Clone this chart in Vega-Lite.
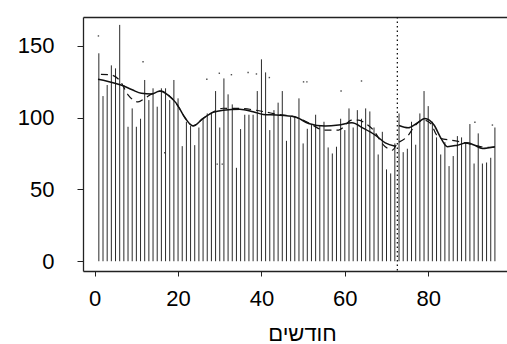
{
  "$schema": "https://vega.github.io/schema/vega-lite/v6.json",
  "width": 424,
  "height": 254,
  "autosize": {"type": "none"},
  "padding": {"left": 83, "top": 17, "right": 0, "bottom": 73},
  "config": {"view": {"stroke": null}, "font": "Liberation Sans", "background": "white"},
  "datasets": {
    "bars": [
      {"m":1,"v":144.9},{"m":2,"v":115.1},{"m":3,"v":122.8},{"m":4,"v":136.5},{"m":5,"v":134.4},{"m":6,"v":164.7},{"m":7,"v":122.8},{"m":8,"v":93.7},{"m":9,"v":106.5},{"m":10,"v":93.7},
      {"m":11,"v":99.3},{"m":12,"v":126.3},{"m":13,"v":112.3},{"m":14,"v":120.5},{"m":15,"v":107.7},{"m":16,"v":120.5},{"m":17,"v":120.5},{"m":18,"v":112.3},{"m":19,"v":126.3},{"m":20,"v":113.5},
      {"m":21,"v":80.2},{"m":22,"v":97.2},{"m":23,"v":94.2},{"m":24,"v":80.9},{"m":25,"v":93.2},{"m":26,"v":99.5},{"m":27,"v":103},{"m":28,"v":103},{"m":29,"v":118.6},{"m":30,"v":93.2},
      {"m":31,"v":127.4},{"m":32,"v":116.3},{"m":33,"v":109.3},{"m":34,"v":65.1},{"m":35,"v":92.1},{"m":36,"v":102.1},{"m":37,"v":102.1},{"m":38,"v":102.1},{"m":39,"v":118.6},{"m":40,"v":140.7},
      {"m":41,"v":131.6},{"m":42,"v":91.4},{"m":43,"v":105.3},{"m":44,"v":110.5},{"m":45,"v":118.6},{"m":46,"v":83.9},{"m":47,"v":100.7},{"m":48,"v":100.7},{"m":49,"v":113.5},{"m":50,"v":82.1},
      {"m":51,"v":92.3},{"m":52,"v":95.6},{"m":53,"v":102.1},{"m":54,"v":94.2},{"m":55,"v":97.2},{"m":56,"v":79.3},{"m":57,"v":75.1},{"m":58,"v":79.8},{"m":59,"v":99.3},{"m":60,"v":91.4},
      {"m":61,"v":106.5},{"m":62,"v":93.2},{"m":63,"v":105.3},{"m":64,"v":99.3},{"m":65,"v":106.5},{"m":66,"v":104.4},{"m":67,"v":93.2},{"m":68,"v":74.4},{"m":69,"v":90.2},{"m":70,"v":64},
      {"m":71,"v":61.2},{"m":72,"v":82.1},{"m":73,"v":103},{"m":74,"v":76},{"m":75,"v":78.4},{"m":76,"v":97.2},{"m":77,"v":81.2},{"m":78,"v":103},{"m":79,"v":118.6},{"m":80,"v":108.1},
      {"m":81,"v":97.2},{"m":82,"v":86.3},{"m":83,"v":74.4},{"m":84,"v":83},{"m":85,"v":66.3},{"m":86,"v":73.3},{"m":87,"v":87.2},{"m":88,"v":86.3},{"m":89,"v":83},{"m":90,"v":95.6},
      {"m":91,"v":68.1},{"m":92,"v":89.1},{"m":93,"v":68.1},{"m":94,"v":68.8},{"m":95,"v":72.1},{"m":96,"v":93.2}
    ],
    "smooth": [
      {"m":0.8,"v":126.8,"s":"a"},{"m":3,"v":125.5,"s":"a"},{"m":6.3,"v":122.8,"s":"a"},{"m":9,"v":119.5,"s":"a"},{"m":11.2,"v":117,"s":"a"},{"m":13.6,"v":116.5,"s":"a"},{"m":15.6,"v":118.6,"s":"a"},{"m":17.6,"v":115.8,"s":"a"},{"m":19.6,"v":110,"s":"a"},{"m":21.6,"v":100.3,"s":"a"},
      {"m":23.6,"v":94.2,"s":"a"},{"m":26,"v":99.5,"s":"a"},{"m":28.4,"v":103.7,"s":"a"},{"m":30.8,"v":105.3,"s":"a"},{"m":34.8,"v":106,"s":"a"},{"m":38,"v":104.2,"s":"a"},{"m":40.4,"v":102.3,"s":"a"},{"m":43.6,"v":101.9,"s":"a"},{"m":48,"v":100.7,"s":"a"},{"m":51.3,"v":96,"s":"a"},
      {"m":55.3,"v":94.2,"s":"a"},{"m":58.5,"v":94.9,"s":"a"},{"m":61.7,"v":96.5,"s":"a"},{"m":64.5,"v":92.6,"s":"a"},{"m":67.3,"v":87.9,"s":"a"},{"m":69.7,"v":82.5,"s":"a"},{"m":72.1,"v":80.2,"s":"a"},
      {"m":73,"v":94.6,"s":"b"},{"m":75.2,"v":93,"s":"b"},{"m":77.2,"v":96,"s":"b"},{"m":79.2,"v":99.5,"s":"b"},{"m":81.4,"v":94.9,"s":"b"},{"m":83,"v":86,"s":"b"},{"m":84.6,"v":79.8,"s":"b"},{"m":87,"v":80.9,"s":"b"},{"m":89.3,"v":82.5,"s":"b"},{"m":91,"v":81,"s":"b"},{"m":93,"v":78.6,"s":"b"},{"m":96,"v":79.8,"s":"b"}
    ],
    "dashed": [
      {"m":1.5,"v":130.2,"s":"a"},{"m":3.6,"v":130,"s":"a"},{"m":6,"v":126,"s":"a"},{"m":8,"v":116,"s":"a"},{"m":10.4,"v":111,"s":"a"},{"m":12,"v":113.5,"s":"a"},{"m":14,"v":117,"s":"a"},{"m":16,"v":118.5,"s":"a"},{"m":18,"v":115,"s":"a"},{"m":20,"v":108,"s":"a"},
      {"m":22,"v":98.5,"s":"a"},{"m":23.6,"v":94.5,"s":"a"},{"m":26,"v":99.5,"s":"a"},{"m":28.4,"v":104,"s":"a"},{"m":30.8,"v":106.6,"s":"a"},{"m":34.8,"v":106.5,"s":"a"},{"m":38.5,"v":105.3,"s":"a"},{"m":41,"v":104,"s":"a"},{"m":43.6,"v":102.5,"s":"a"},{"m":48,"v":100.5,"s":"a"},
      {"m":51.3,"v":96.5,"s":"a"},{"m":55,"v":91.4,"s":"a"},{"m":58.5,"v":91.4,"s":"a"},{"m":61.7,"v":98.4,"s":"a"},{"m":63.3,"v":98.4,"s":"a"},{"m":65,"v":96,"s":"a"},{"m":66.5,"v":92.5,"s":"a"},{"m":69.7,"v":79.8,"s":"a"},{"m":71.4,"v":77.4,"s":"a"},{"m":72.4,"v":81.5,"s":"a"},
      {"m":73,"v":83,"s":"b"},{"m":75,"v":87,"s":"b"},{"m":76.7,"v":94,"s":"b"},{"m":78.8,"v":98.4,"s":"b"},{"m":80.6,"v":96,"s":"b"},{"m":82,"v":88,"s":"b"},{"m":83,"v":85.6,"s":"b"},{"m":85.4,"v":84.4,"s":"b"},{"m":87.8,"v":83.2,"s":"b"},{"m":91,"v":80.9,"s":"b"},{"m":94.1,"v":79.3,"s":"b"},{"m":96,"v":79.5,"s":"b"}
    ],
    "dots": [
      {"m":0.9,"v":157},{"m":11.6,"v":139},{"m":16.8,"v":75.6},{"m":26.9,"v":126.8},{"m":29.4,"v":67.7},{"m":30.6,"v":67.7},{"m":29.9,"v":131},{"m":32.8,"v":130},{"m":36.8,"v":131.5},{"m":38.8,"v":130.5},{"m":41.9,"v":128},{"m":50.1,"v":125},{"m":50.9,"v":125},{"m":59.1,"v":118.6},{"m":64,"v":125.6},{"m":91.2,"v":96.8},{"m":95.4,"v":94.9}
    ],
    "vline": [{"m":72.6}]
  },
  "resolve": {"axis": {"x": "independent", "y": "independent"}},
  "layer": [
    {
      "data": {"name": "bars"},
      "mark": {"type": "rule", "color": "#2a2a2a", "strokeWidth": 1},
      "encoding": {
        "x": {"field": "m", "type": "quantitative",
          "scale": {"domain": [-2.8, 98.9], "nice": false, "zero": false},
          "axis": {"orient": "bottom", "values": [0, 20, 40, 60, 80], "grid": false,
            "domainColor": "#222", "domainWidth": 1.3, "tickColor": "#222", "tickWidth": 1, "tickSize": 5,
            "labelFontSize": 22, "labelColor": "black", "labelFont": "Liberation Sans", "labelBaseline": "alphabetic", "labelPadding": 29.5, "labelFlush": false, "labelOverlap": false,
            "title": "חודשים", "titleFontSize": 22, "titleFont": "Liberation Sans", "titleFontWeight": "normal", "titleColor": "black",
            "titleX": 219, "titleY": 69, "titleBaseline": "alphabetic", "titleAlign": "center", "titleAnchor": null}},
        "y": {"field": "v", "type": "quantitative",
          "scale": {"domain": [-6.8, 170.2], "nice": false, "zero": false},
          "axis": {"orient": "left", "values": [0, 50, 100, 150], "grid": false,
            "domainColor": "#222", "domainWidth": 1.3, "tickColor": "#222", "tickWidth": 1, "tickSize": 6,
            "labelFontSize": 22, "labelColor": "black", "labelFont": "Liberation Sans", "labelPadding": 23, "labelFlush": false, "labelOverlap": false,
            "title": null}},
        "y2": {"datum": 0}
      }
    },
    {
      "data": {"name": "dots"},
      "mark": {"type": "square", "size": 2, "color": "#222", "opacity": 0.8},
      "encoding": {
        "x": {"field": "m", "type": "quantitative", "axis": null},
        "y": {"field": "v", "type": "quantitative", "axis": null}
      }
    },
    {
      "data": {"name": "dashed"},
      "mark": {"type": "line", "color": "#111", "strokeWidth": 1.2, "strokeDash": [7, 5], "interpolate": "monotone"},
      "encoding": {
        "x": {"field": "m", "type": "quantitative", "axis": null},
        "y": {"field": "v", "type": "quantitative", "axis": null},
        "detail": {"field": "s"}
      }
    },
    {
      "data": {"name": "smooth"},
      "mark": {"type": "line", "color": "#111", "strokeWidth": 1.5, "interpolate": "monotone"},
      "encoding": {
        "x": {"field": "m", "type": "quantitative", "axis": null},
        "y": {"field": "v", "type": "quantitative", "axis": null},
        "detail": {"field": "s"}
      }
    },
    {
      "data": {"name": "vline"},
      "mark": {"type": "rule", "color": "#111", "strokeWidth": 1.3, "strokeDash": [1.5, 3]},
      "encoding": {
        "x": {"field": "m", "type": "quantitative",
          "axis": {"orient": "top", "labels": false, "ticks": false, "grid": false, "title": null, "domainColor": "#222", "domainWidth": 1.3}}
      }
    }
  ]
}
